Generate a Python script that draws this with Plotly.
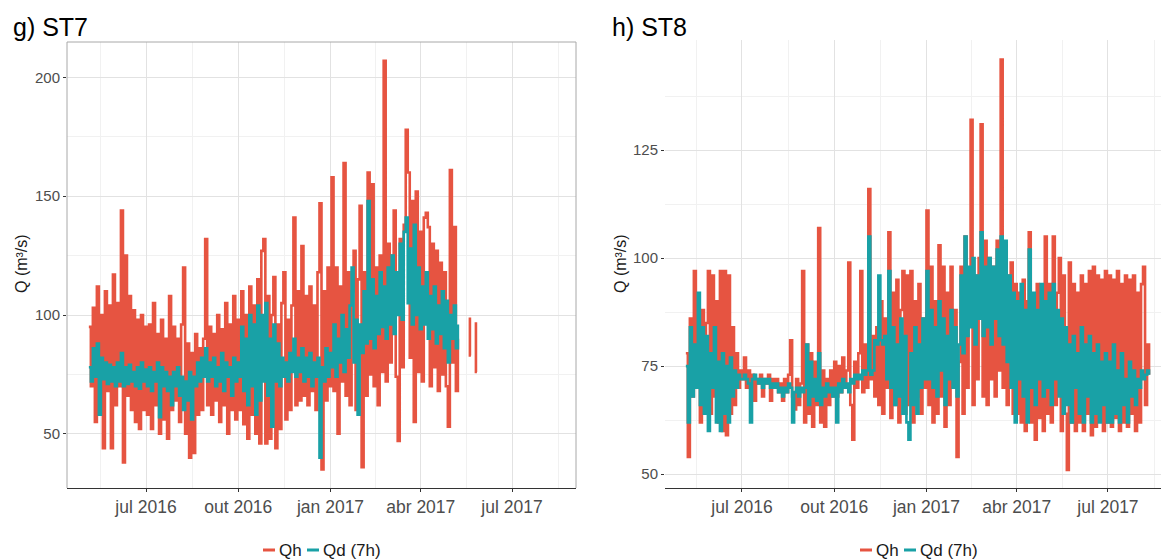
import pandas as pd
import plotly.graph_objects as go

W, H = 1161, 559

# ---------------- ST7 (2-day sampling, from 2016-05-05) ----------------
st7_start = "2016-05-05"
st7_qh = [
    95, 70, 103, 55, 112, 72, 100, 44, 110, 68, 104, 44, 117, 62,
    105, 70, 144, 38, 125, 66, 108, 60, 102, 55, 98, 52, 100, 60, 95,
    58, 96, 52, 105, 62, 92, 50, 98, 56, 90, 48, 108, 60, 95, 64,
    90, 55, 96, 120, 50, 88, 40, 84, 42, 92, 58, 86, 60, 90, 132, 62,
    95, 58, 92, 64, 100, 55, 94, 62, 105, 50, 96, 60, 108, 56, 98,
    60, 110, 54, 100, 48, 112, 58, 104, 50, 115, 46, 127, 132, 46, 108,
    48, 100, 116, 44, 96, 52, 105, 118, 56, 98, 60, 104, 141, 62, 110,
    64, 129, 66, 108, 62, 112, 68, 104, 60, 118, 147, 35, 110, 64, 120, 70,
    158, 68, 120, 50, 112, 72, 164, 66, 118, 62, 110, 127, 60, 115, 146,
    36, 118, 66, 160, 75, 155, 70, 120, 62, 125, 76, 207, 72, 130,
    80, 125, 144, 74, 47, 132, 78, 138, 178, 160, 82, 148, 55, 152, 76, 135,
    72, 141, 143, 137, 70, 130, 78, 127, 68, 122, 75, 118, 70, 53, 161,
    80, 137, 68, 90,
]
st7_qd = [
    78, 72, 86, 74, 88, 58, 82, 73, 80, 71, 79, 72, 78, 70,
    80, 72, 84, 70, 78, 71, 79, 72, 76, 70, 78, 69, 80, 72, 77,
    70, 78, 68, 76, 72, 80, 57, 78, 70, 76, 68, 74, 62, 76, 70,
    78, 66, 74, 60, 72, 64, 76, 56, 74, 70, 80, 72, 82, 74, 86, 72,
    80, 74, 82, 70, 78, 72, 84, 68, 80, 74, 78, 66, 82, 72, 80,
    74, 95, 68, 90, 62, 100, 70, 96, 58, 104, 64, 100, 72, 105, 66,
    90, 53, 96, 72, 88, 70, 82, 74, 80, 72, 84, 76, 90, 74, 82,
    76, 86, 72, 82, 74, 84, 70, 80, 74, 82, 40, 78, 72, 86, 74, 84,
    78, 96, 74, 90, 80, 100, 76, 94, 82, 104, 120, 80, 98, 58, 96,
    84, 110, 88, 148, 90, 115, 86, 108, 92, 118, 95, 112, 90, 120,
    96, 125, 92, 118, 100, 130, 98, 135, 141, 105, 128, 96, 138, 100, 120, 94,
    112, 96, 118, 90, 108, 94, 112, 88, 104, 92, 110, 86, 106, 80, 100,
    90, 104, 86, 96,
]
# two short isolated Qh records after the main series
st7_qh_tail_dates = ["2017-05-20", "2017-05-21", "2017-05-24", "2017-05-26", "2017-05-27"]
st7_qh_tail = [99, 83, None, 97, 76]

# ---------------- ST8 (2-day sampling, from 2016-05-06) ----------------
st8_start = "2016-05-06"
st8_qh = [
    78, 54, 86, 68, 97, 70, 86, 62, 88, 66, 85, 97, 64,
    96, 68, 90, 62, 97, 60, 97, 59, 96, 64, 84, 66, 78, 70, 74,
    72, 77, 70, 74, 71, 73, 67, 72, 71, 73, 68, 72, 71, 73, 67, 72,
    70, 72, 69, 71, 67, 72, 69, 73, 81, 68, 65, 72, 66, 71, 97,
    62, 80, 64, 78, 61, 76, 66, 107, 62, 74, 61, 72, 66, 74, 68,
    76, 68, 75, 69, 77, 70, 74, 99, 66, 58, 76, 70, 78, 97, 69, 80,
    70, 116, 72, 82, 68, 84, 66, 90, 64, 86, 70, 106, 63, 92, 66,
    95, 62, 88, 97, 64, 96, 66, 97, 62, 90, 68, 94, 64, 86, 70,
    111, 66, 98, 62, 90, 64, 103, 68, 98, 61, 92, 66, 98, 70, 88, 54,
    76, 98, 64, 105, 70, 92, 132, 66, 96, 72, 100, 131, 68, 104,
    66, 100, 72, 98, 68, 104, 74, 146, 70, 103, 66, 96, 99, 64, 94,
    64, 92, 62, 95, 60, 90, 106, 62, 88, 58, 94, 63, 90, 60, 105,
    64, 94, 62, 105, 66, 92, 100, 60, 96, 64, 51, 99, 62, 94, 60, 92,
    62, 96, 60, 94, 64, 97, 59, 98, 61, 96, 63, 95, 60, 97, 62,
    96, 61, 95, 63, 97, 60, 94, 62, 96, 61, 95, 64, 96, 60, 92, 62,
    94, 98, 66, 80, 73,
]
st8_qd = [
    75, 62, 84, 68, 80, 70, 92, 66, 84, 64, 82, 60, 78,
    70, 84, 62, 76, 60, 78, 64, 75, 62, 77, 68, 74, 70, 73, 72,
    72, 73, 72, 71, 62, 72, 73, 72, 71, 72, 70, 72, 71, 72, 70, 71,
    70, 71, 69, 70, 68, 70, 69, 71, 70, 62, 69, 70, 68, 70, 69,
    70, 80, 66, 76, 68, 72, 67, 78, 66, 70, 68, 71, 69, 70, 68,
    70, 62, 71, 69, 72, 70, 71, 69, 72, 71, 73, 72, 73, 72, 74, 73,
    74, 105, 73, 74, 81, 80, 96, 81, 80, 82, 72, 97, 70, 84, 66,
    80, 68, 86, 64, 82, 62, 58, 78, 66, 84, 64, 80, 70, 86, 72,
    97, 72, 88, 70, 84, 68, 90, 74, 86, 66, 82, 72, 88, 70, 84, 68,
    80, 96, 78, 105, 82, 98, 84, 100, 80, 96, 86, 106, 82, 98,
    84, 100, 80, 98, 86, 102, 82, 105, 80, 104, 76, 96, 70, 92, 62,
    90, 72, 94, 68, 88, 62, 102, 70, 92, 66, 88, 72, 94, 68, 90,
    70, 92, 66, 94, 72, 88, 68, 86, 64, 84, 66, 80, 62, 82, 70, 78,
    64, 84, 62, 80, 68, 82, 62, 78, 64, 80, 62, 76, 66, 78, 62,
    76, 62, 80, 64, 74, 62, 78, 66, 72, 62, 76, 68, 74, 66, 72, 70,
    74, 72, 73, 74, 73,
]

# ---------------- axes ----------------
x_tickvals = ["2016-07-01", "2016-10-01", "2017-01-01", "2017-04-01", "2017-07-01"]
x_ticktext = ["jul 2016", "out 2016", "jan 2017", "abr 2017", "jul 2017"]
x_minor = ["2016-05-16 12:00", "2016-08-16", "2016-11-16", "2017-02-15",
           "2017-05-16 12:00", "2017-08-16"]
st7_yticks = [50, 100, 150, 200]
st7_yminor = [75, 125, 175]
st8_yticks = [50, 75, 100, 125]
st8_yminor = [62.5, 87.5, 112.5, 137.5]

RED = "#E65441"
TEAL = "#19A1A6"
FONT = "Liberation Sans, Arial, sans-serif"
TICK_COL = "#4D4D4D"
GRID_MAJ = "#E2E2E2"
GRID_MIN = "#F1F1F1"
LW = 2.6
SHAPE = "hv"


def dates(start, n):
    return pd.date_range(start, periods=n, freq="2D")


fig = go.Figure()

# ST7
fig.add_trace(go.Scatter(x=dates(st7_start, len(st7_qh)), y=st7_qh, mode="lines",
                         line=dict(color=RED, width=LW, shape=SHAPE), name="Qh",
                         xaxis="x", yaxis="y", showlegend=False))
fig.add_trace(go.Scatter(x=pd.to_datetime(st7_qh_tail_dates), y=st7_qh_tail, mode="lines",
                         line=dict(color=RED, width=LW, shape="vh"), name="Qh",
                         xaxis="x", yaxis="y", showlegend=False, connectgaps=False))
fig.add_trace(go.Scatter(x=dates(st7_start, len(st7_qd)), y=st7_qd, mode="lines",
                         line=dict(color=TEAL, width=LW, shape=SHAPE), name="Qd (7h)",
                         xaxis="x", yaxis="y", showlegend=False))

# ST8
fig.add_trace(go.Scatter(x=dates(st8_start, len(st8_qh)), y=st8_qh, mode="lines",
                         line=dict(color=RED, width=LW, shape=SHAPE), name="Qh",
                         xaxis="x2", yaxis="y2", showlegend=False))
fig.add_trace(go.Scatter(x=dates(st8_start, len(st8_qd)), y=st8_qd, mode="lines",
                         line=dict(color=TEAL, width=LW, shape=SHAPE), name="Qd (7h)",
                         xaxis="x2", yaxis="y2", showlegend=False))


def px(x):
    return x / W


def py(y):
    return 1 - y / H


def xaxis_cfg(domain, rng, anchor):
    return dict(
        domain=domain, range=rng, anchor=anchor, type="date",
        tickmode="array", tickvals=x_tickvals, ticktext=x_ticktext,
        showgrid=True, gridcolor=GRID_MAJ, gridwidth=1,
        minor=dict(tickmode="array", tickvals=x_minor, showgrid=True,
                   gridcolor=GRID_MIN, gridwidth=1, ticks=""),
        ticks="outside", ticklen=3, tickcolor="#333333",
        tickfont=dict(family=FONT, size=17.5, color=TICK_COL),
        showline=True, linecolor="#333333", linewidth=1.3,
        zeroline=False, fixedrange=True,
    )


def yaxis_cfg(domain, rng, anchor, ticks, minor):
    return dict(
        domain=domain, range=rng, anchor=anchor,
        tickmode="array", tickvals=ticks,
        showgrid=True, gridcolor=GRID_MAJ, gridwidth=1,
        minor=dict(tickmode="array", tickvals=minor, showgrid=True,
                   gridcolor=GRID_MIN, gridwidth=1, ticks=""),
        ticks="outside", ticklen=3, tickcolor="#333333",
        tickfont=dict(family=FONT, size=15, color=TICK_COL),
        showline=False, zeroline=False, fixedrange=True,
    )


fig.update_layout(
    width=W, height=H,
    margin=dict(l=0, r=0, t=0, b=0),
    paper_bgcolor="white", plot_bgcolor="white",
    showlegend=False,
    xaxis=xaxis_cfg([px(67), px(576)], ["2016-04-13 05:00", "2017-09-02 19:00"], "y"),
    yaxis=yaxis_cfg([py(488), py(42)], [27.2, 214.9], "x", st7_yticks, st7_yminor),
    xaxis2=xaxis_cfg([px(665), 1.0], ["2016-04-15 05:00", "2017-08-22 22:00"], "y2"),
    yaxis2=yaxis_cfg([py(488), py(40)], [46.8, 150.5], "x2", st8_yticks, st8_yminor),
)

# panel border of ST7 (left, top, right sides)
border = dict(color="#A8A8A8", width=1)
for x0, y0, x1, y1 in [(0, 0, 0, 1), (0, 1, 1, 1), (1, 0, 1, 1)]:
    fig.add_shape(type="line", xref="x domain", yref="y domain",
                  x0=x0, y0=y0, x1=x1, y1=y1, line=border, layer="above")

annotations = []
# panel titles
for text, x in [("g) ST7", 11), ("h) ST8", 610)]:
    annotations.append(dict(text=text, x=px(x), y=py(27), xref="paper", yref="paper",
                            xanchor="left", yanchor="middle", showarrow=False,
                            font=dict(family=FONT, size=25, color="#000000")))
# y-axis titles
for x in [21, 620]:
    annotations.append(dict(text="Q (m³/s)", x=px(x), y=py(264), xref="paper", yref="paper",
                            xanchor="center", yanchor="middle", textangle=-90, showarrow=False,
                            font=dict(family=FONT, size=16, color="#1A1A1A")))

# legends below each panel
for x_start in [263, 860]:
    y_leg = py(550)
    fig.add_shape(type="line", xref="paper", yref="paper",
                  x0=px(x_start), x1=px(x_start + 12), y0=y_leg, y1=y_leg,
                  line=dict(color=RED, width=3))
    annotations.append(dict(text="Qh", x=px(x_start + 14), y=y_leg, xref="paper", yref="paper",
                            xanchor="left", yanchor="middle", showarrow=False,
                            font=dict(family=FONT, size=17, color="#1A1A1A")))
    fig.add_shape(type="line", xref="paper", yref="paper",
                  x0=px(x_start + 44), x1=px(x_start + 56), y0=y_leg, y1=y_leg,
                  line=dict(color=TEAL, width=3))
    annotations.append(dict(text="Qd (7h)", x=px(x_start + 58), y=y_leg, xref="paper", yref="paper",
                            xanchor="left", yanchor="middle", showarrow=False,
                            font=dict(family=FONT, size=17, color="#1A1A1A")))

fig.update_layout(annotations=annotations)

fig.write_html("out.html")
